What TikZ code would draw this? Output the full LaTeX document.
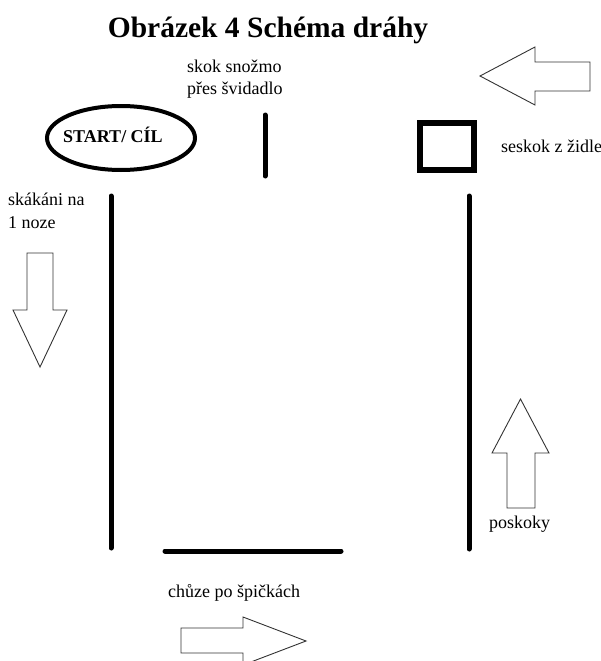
\documentclass[tikz,border=0pt]{standalone}
\usepackage{fontspec}
\setmainfont{Liberation Serif}
\begin{document}
\begin{tikzpicture}[x=1pt,y=-1pt,
  lane/.style={line width=5pt,line cap=round},
  blockarrow/.style={draw=black!80,line width=0.9pt,fill=white,line join=miter},
  lbl/.style={inner sep=0pt,anchor=base west,font=\fontsize{18}{20}\selectfont}]
\useasboundingbox (0,0) rectangle (601,661);
\fill[white] (0,0) rectangle (601,661);

% title
\node[inner sep=0pt,anchor=base,font=\fontsize{29.5}{34}\selectfont\bfseries] (title) at (268,38) {Obrázek 4 Schéma dráhy};

% start / finish
\draw[line width=4pt] (121,138) ellipse [x radius=74, y radius=32];
\node[lbl,font=\fontsize{18}{20}\selectfont\bfseries] (start) at (63,142) {START/ CÍL};

% rope jump
\node[lbl] (rope1) at (187,73) {skok snožmo};
\node[lbl] (rope2) at (187,95) {přes švidadlo};
\draw[lane] (265,115) -- (265,176);

% chair
\draw[line width=6pt] (420,123) rectangle (474,170);
\node[lbl] (chair) at (501,152) {seskok z židle};

% long lanes
\draw[lane] (111,196) -- (111,548);
\draw[lane] (469,196) -- (469,549);
\draw[lane] (165,551) -- (341,551);

% labels
\node[lbl] (hop1) at (8,205) {skákáni na};
\node[lbl] (hop2) at (8,228) {1 noze};
\node[lbl] (jumps) at (489,528) {poskoky};
\node[lbl] (walk) at (168,597) {chůze po špičkách};

% direction arrows
\draw[blockarrow] (480,76) -- (535,47) -- (535,62) -- (590,62) -- (590,91) -- (535,91) -- (535,105) -- cycle;
\draw[blockarrow] (27,253) -- (53,253) -- (53,310) -- (67,310) -- (40,367) -- (13,310) -- (27,310) -- cycle;
\draw[blockarrow] (520.5,399) -- (549,453) -- (535,453) -- (535,508) -- (507,508) -- (507,453) -- (492,453) -- cycle;
\draw[blockarrow] (181,628) -- (243,628) -- (243,617) -- (306,641) -- (243,665) -- (243,653) -- (181,653) -- cycle;
\end{tikzpicture}
\end{document}
